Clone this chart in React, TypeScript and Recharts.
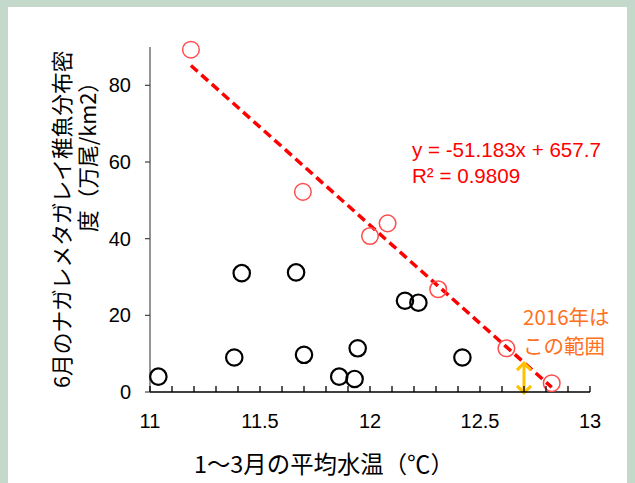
import React from "react"
import { ScatterChart, Scatter, XAxis, YAxis, ReferenceLine } from "recharts"

// tick positions
const xTicks = [11, 11.1, 11.2, 11.3, 11.4, 11.5, 11.6, 11.7, 11.8, 11.9, 12, 12.1, 12.2, 12.3, 12.4, 12.5, 12.6, 12.7, 12.8, 12.9, 13]
const xLabelTicks = [11, 11.5, 12, 12.5, 13]
const yTicks = [0, 20, 40, 60, 80]

// years used for the regression (red)
const redX = [11.186, 11.695, 12.0, 12.08, 12.31, 12.62, 12.826]
const redY = [89.3, 52.2, 40.7, 44.0, 26.8, 11.4, 2.3]

// other years (black)
const blackX = [11.038, 11.383, 11.417, 11.664, 11.7, 11.86, 11.93, 11.944, 12.159, 12.22, 12.42]
const blackY = [4.0, 9.0, 31.0, 31.2, 9.7, 4.0, 3.4, 11.4, 23.8, 23.3, 9.0]

// trendline y = -51.183x + 657.7
const slope = -51.183
const intercept = 657.7

// 2016 estimate range
const arrowX = 12.7
const arrowRange = [-0.5, 7.8]

const redData = redX.map((x, i) => ({ x, y: redY[i] }))
const blackData = blackX.map((x, i) => ({ x, y: blackY[i] }))
const trendX = [Math.min(...redX), Math.max(...redX)]
const trend = trendX.map((x) => ({ x, y: slope * x + intercept }))

const jp = '"Noto Sans CJK JP", sans-serif'
const num = '"Liberation Sans", Arial, sans-serif'

const XTick = (props: any) => {
  const { x, y, payload } = props
  const v = payload.value
  return (
    <g>
      <line x1={x} x2={x} y1={y} y2={y - 6} stroke="#000" strokeWidth={1.3} />
      {xLabelTicks.includes(v) && (
        <text x={x} y={y + 36} textAnchor="middle" fontSize={20} fontFamily={num} fill="#000">
          {v}
        </text>
      )}
    </g>
  )
}

const RedDot = (p: any) => <circle cx={p.cx} cy={p.cy} r={8.3} fill="none" stroke="#ff4d4d" strokeWidth={1.5} />
const BlackDot = (p: any) => <circle cx={p.cx} cy={p.cy} r={8.2} fill="none" stroke="#000" strokeWidth={2.2} />

const Arrow = (p: any) => {
  const { x1, y1, x2, y2 } = p
  const top = Math.min(y1, y2)
  const bot = Math.max(y1, y2)
  return (
    <g stroke="#ffc000" strokeWidth={3} fill="none">
      <line x1={x1} x2={x2} y1={top + 1} y2={bot - 1} />
      <polyline points={`${x1 - 7},${top + 8} ${x1},${top + 1} ${x1 + 7},${top + 8}`} />
      <polyline points={`${x1 - 7},${bot - 8} ${x1},${bot - 1} ${x1 + 7},${bot - 8}`} />
    </g>
  )
}

export default function App() {
  return (
    <div style={{ position: "absolute", left: 0, top: 0, width: 635, height: 483, background: "#c5d9cb" }}>
      <div style={{ position: "absolute", left: 8, top: 7, width: 619, height: 476, background: "#fff" }} />
      <div style={{ position: "absolute", left: 0, top: 0 }}>
        <ScatterChart width={635} height={483} margin={{ top: 47, right: 45, bottom: 61, left: 90 }}>
          <XAxis
            type="number"
            dataKey="x"
            domain={[11, 13]}
            ticks={xTicks}
            interval={0}
            height={30}
            tickSize={0}
            tickMargin={0}
            tick={<XTick />}
            axisLine={{ stroke: "#000", strokeWidth: 1.5 }}
            tickLine={false}
          />
          <YAxis
            type="number"
            dataKey="y"
            domain={[0, 90]}
            ticks={yTicks}
            width={60}
            tickSize={5}
            tickMargin={14}
            tick={{ fontSize: 20, fontFamily: num, fill: "#000" }}
            axisLine={{ stroke: "#707070", strokeWidth: 1.5 }}
            tickLine={{ stroke: "#404040", strokeWidth: 1.2 }}
          />
          <ReferenceLine
            segment={trend}
            stroke="#ff0000"
            strokeWidth={3.5}
            strokeDasharray="9 5"
            ifOverflow="visible"
          />
          <Scatter data={blackData} shape={<BlackDot />} isAnimationActive={false} />
          <Scatter data={redData} shape={<RedDot />} isAnimationActive={false} />
          <ReferenceLine
            segment={[
              { x: arrowX, y: arrowRange[0] },
              { x: arrowX, y: arrowRange[1] },
            ]}
            ifOverflow="visible"
            shape={(p: any) => <Arrow {...p} />}
          />
          <text x={412} y={157} fontSize={20.6} fontFamily={num} fill="#ff0000">
            y = -51.183x + 657.7
          </text>
          <text x={412} y={183} fontSize={20.6} fontFamily={num} fill="#ff0000">
            R² = 0.9809
          </text>
          <text x={523} y={325} fontSize={20.5} fontFamily={jp} fill="#ff7020">
            2016年は
          </text>
          <text x={523} y={354} fontSize={20.5} fontFamily={jp} fill="#ff7020">
            この範囲
          </text>
          <text x={194} y={473} fontSize={23.4} fontFamily={jp} fill="#000">
            1〜3月の平均水温（℃）
          </text>
          <text x={70} y={388} fontSize={21.7} fontFamily={jp} fill="#000" transform="rotate(-90 70 388)">
            6月のナガレメタガレイ稚魚分布密
          </text>
          <text x={96} y={232} fontSize={21.7} fontFamily={jp} fill="#000" transform="rotate(-90 96 232)">
            度（万尾/km2）
          </text>
        </ScatterChart>
      </div>
    </div>
  )
}
